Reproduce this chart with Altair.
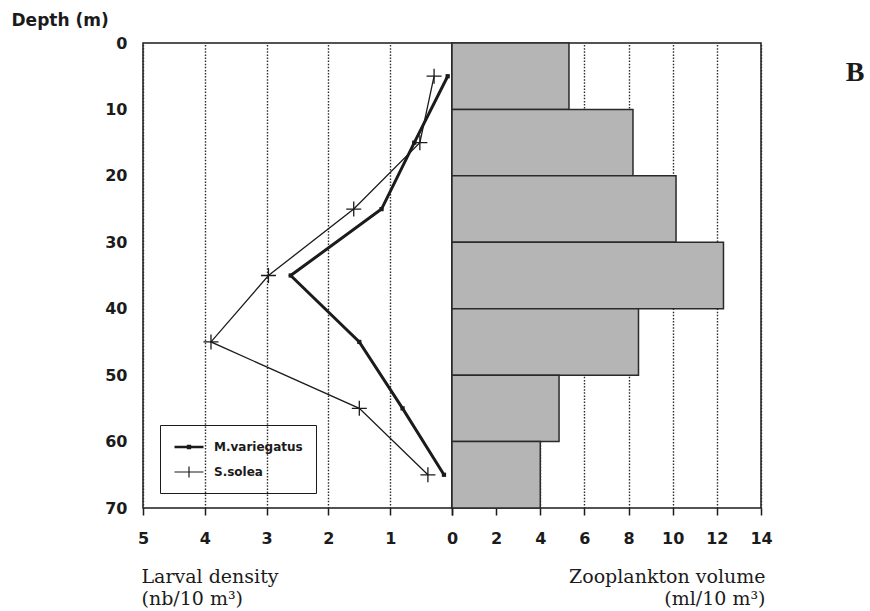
import altair as alt
import pandas as pd

# ---------------- data ----------------
depth_top = [0, 10, 20, 30, 40, 50, 60]
depth_bottom = [10, 20, 30, 40, 50, 60, 70]
depth_mid = [5, 15, 25, 35, 45, 55, 65]
zooplankton = [5.3, 8.2, 10.15, 12.3, 8.45, 4.85, 4.0]
m_variegatus = [0.07, 0.61, 1.14, 2.61, 1.50, 0.80, 0.13]
s_solea = [0.29, 0.52, 1.59, 2.97, 3.90, 1.50, 0.39]
series_names = ["M.variegatus", "S.solea"]
left_ticks = [5, 4, 3, 2, 1, 0]
right_ticks = [0, 2, 4, 6, 8, 10, 12, 14]
depth_ticks = [0, 10, 20, 30, 40, 50, 60, 70]
panel_label = ["B"]

larvae = pd.DataFrame({
    "depth": depth_mid + depth_mid,
    "density": m_variegatus + s_solea,
    "series": [series_names[0]] * len(depth_mid) + [series_names[1]] * len(depth_mid),
})
zoo = pd.DataFrame({"top": depth_top, "bottom": depth_bottom, "volume": zooplankton})

# ---------------- styling ----------------
W, H = 309, 465
INK = "#1b1b1b"
TICK_FONT = "DejaVu Sans"
TITLE_SERIF = "DejaVu Serif"

y_scale = alt.Scale(domain=[0, 70], reverse=True, nice=False, zero=False)

common_x_axis = dict(
    tickSize=7, tickWidth=1.5, tickColor=INK, domain=False,
    labelFont=TICK_FONT, labelFontSize=16, labelFontWeight="bold", labelColor=INK,
    labelPadding=15, labelFlush=False, labelOverlap=False, labelBound=False,
    grid=True, gridDash=[1.5, 1.6], gridColor="#2a2a2a", gridWidth=1.4,
    titleFont=TITLE_SERIF, titleFontSize=19, titleFontWeight="normal", titleColor=INK,
    titleLineHeight=22, titleBaseline="top", titleY=59,
)

y_left = alt.Y(
    "depth:Q", scale=y_scale,
    axis=alt.Axis(
        values=depth_ticks, title="Depth (m)", tickSize=0, domain=False, grid=False,
        labelFont=TICK_FONT, labelFontSize=16, labelFontWeight="bold", labelColor=INK,
        labelPadding=16, labelFlush=False, labelOverlap=False, labelBound=False,
        titleAngle=0, titleAlign="left", titleBaseline="alphabetic",
        titleX=-132, titleY=-18, titleFont=TICK_FONT, titleFontSize=17,
        titleFontWeight="bold", titleColor=INK,
    ),
)
x_left = alt.X(
    "density:Q", scale=alt.Scale(domain=[0, 5], reverse=True, nice=False, zero=False),
    axis=alt.Axis(values=left_ticks, title=["Larval density", "(nb/10 m³)"],
                  titleX=-2, titleAlign="left", titleAnchor="start", **common_x_axis),
)

base = alt.Chart(larvae)
mv = base.transform_filter(alt.datum.series == series_names[0])
ss = base.transform_filter(alt.datum.series == series_names[1])

mv_line = mv.mark_line(color=INK, strokeWidth=3).encode(x=x_left, y=y_left, order="depth:Q")
ss_line = ss.mark_line(color=INK, strokeWidth=1.3).encode(x=x_left, y=y_left, order="depth:Q")
mv_pts = mv.mark_point(shape="square", filled=True, size=18, color=INK, opacity=1).encode(x=x_left, y=y_left)
ss_pts = ss.mark_point(shape="M-1,0H1M0,-1V1", filled=False, size=225, color=INK,
                       strokeWidth=1.3, opacity=1).encode(x=x_left, y=y_left)

legend_paths = ["M-2,0H2M-0.12,-0.12H0.12V0.12H-0.12Z", "M-2,0H2M0,-0.75V0.75"]
legend_layer = base.mark_point(filled=False, opacity=0, color=INK).encode(
    x=x_left, y=y_left,
    shape=alt.Shape(
        "series:N",
        scale=alt.Scale(domain=series_names, range=legend_paths),
        legend=alt.Legend(
            orient="none", legendX=17, legendY=382, title=None,
            strokeColor=INK, padding=13, rowPadding=10,
            labelFont=TICK_FONT, labelFontSize=12, labelFontWeight="bold", labelColor=INK,
            symbolSize=210, symbolStrokeColor=INK, symbolOpacity=1,
            symbolOffset=7, labelOffset=16, labelLimit=300,
        ),
    ),
    strokeWidth=alt.StrokeWidth(
        "series:N", scale=alt.Scale(domain=series_names, range=[2.6, 1.2]),
        legend=alt.Legend(title=None),
    ),
)

left = alt.layer(ss_line, mv_line, ss_pts, mv_pts, legend_layer).properties(width=W, height=H)

x_right = alt.X(
    "volume:Q", scale=alt.Scale(domain=[0, 14], nice=False, zero=False),
    axis=alt.Axis(values=right_ticks, title=["Zooplankton volume", "(ml/10 m³)"],
                  labelExpr="datum.value == 0 ? '' : datum.label",
                  titleX=313, titleAlign="right", titleAnchor="end", **common_x_axis),
)
bars = alt.Chart(zoo).mark_bar(fill="#b5b5b5", stroke="#2a2a2a", strokeWidth=1.5).encode(
    x=x_right, x2=alt.datum(0),
    y=alt.Y("top:Q", scale=y_scale, axis=None), y2="bottom:Q",
)
letter = alt.Chart(pd.DataFrame({"label": panel_label})).mark_text(
    font="Liberation Serif", fontSize=28, fontWeight="bold", color=INK,
    align="center", baseline="middle",
).encode(text="label:N", x=alt.value(403), y=alt.value(30))

right = alt.layer(bars, letter).properties(width=W, height=H)

chart = (
    alt.hconcat(left, right, spacing=0, bounds="flush")
    .properties(padding={"left": 10, "top": 10, "right": 2, "bottom": 2}, background="white")
    .configure_view(stroke=INK, strokeWidth=1.5)
)

chart.save("out.html", embed_options={"renderer": "svg", "actions": False})
